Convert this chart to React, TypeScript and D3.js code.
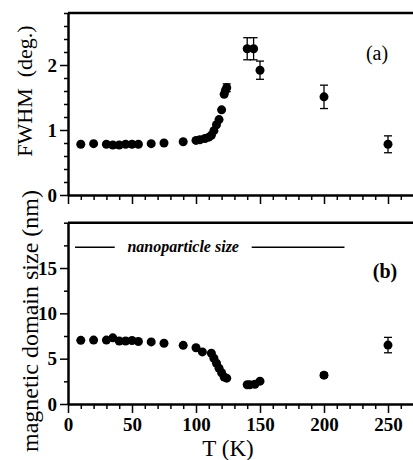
import React, { useEffect, useRef } from "react";
import * as d3 from "d3";

// panel (a): FWHM vs temperature
const tempA = [10, 20, 30, 35, 40, 45, 50, 55, 65, 75, 90, 100, 103, 107, 110, 112, 114, 116, 118, 120, 122, 123, 124, 140, 145, 150, 200, 250];
const fwhm = [0.78, 0.79, 0.78, 0.77, 0.77, 0.78, 0.78, 0.78, 0.79, 0.8, 0.82, 0.84, 0.85, 0.87, 0.89, 0.92, 0.99, 1.08, 1.16, 1.31, 1.55, 1.61, 1.65, 2.25, 2.25, 1.92, 1.51, 0.78];
const fwhmErr = [0, 0, 0, 0, 0, 0, 0, 0, 0, 0, 0, 0, 0, 0, 0, 0, 0, 0, 0, 0, 0, 0, 0.06, 0.17, 0.17, 0.14, 0.18, 0.13];

// panel (b): magnetic domain size vs temperature
const tempB = [10, 20, 30, 35, 40, 45, 50, 55, 65, 75, 90, 100, 105, 112, 114, 116, 118, 120, 122, 124, 140, 142, 146, 150, 200, 250];
const domainSize = [7.02, 7.05, 7.05, 7.3, 6.95, 6.95, 7.0, 6.9, 6.85, 6.7, 6.47, 6.2, 5.75, 5.6, 5.05, 4.5, 3.95, 3.45, 2.98, 2.85, 2.12, 2.12, 2.18, 2.52, 3.18, 6.5];
const domainErr = [0, 0, 0, 0, 0, 0, 0, 0, 0, 0, 0, 0, 0, 0, 0, 0, 0, 0, 0, 0, 0, 0, 0, 0, 0.25, 0.85];

const nanoSize = 17.3;
const nanoSpan = [5.5, 36.5, 143.5, 216];

const xMajor = [0, 50, 100, 150, 200, 250];
const yMajorA = [0, 1, 2];
const yMajorB = [0, 5, 10, 15];

export default function App() {
  const svgRef = useRef<SVGSVGElement>(null);

  useEffect(() => {
    const svg = d3.select(svgRef.current);
    svg.selectAll("*").remove();
    const font = "Liberation Serif";

    const x = d3.scaleLinear().domain([0, 275]).range([68, 420]);
    const yA = d3.scaleLinear().domain([0, 2.8]).range([195, 13]);
    const yB = d3.scaleLinear().domain([0, 20]).range([404, 222.7]);

    function panel(y: d3.ScaleLinear<number, number>, majors: number[], minorStep: number, showX: boolean) {
      const [y0, y1] = y.range();
      const g = svg.append("g");
      // top frame line
      g.append("line").attr("x1", 68).attr("x2", 420).attr("y1", y1).attr("y2", y1)
        .attr("stroke", "#000").attr("stroke-width", 2.5);

      // x axis
      const xMinor = d3.range(0, 271, 10).filter((v) => v % 50 !== 0);
      g.append("g").attr("transform", `translate(0,${y0})`)
        .call(d3.axisBottom(x).tickValues(xMinor).tickSize(5).tickSizeOuter(0).tickFormat(() => ""));
      const xa = g.append("g").attr("transform", `translate(0,${y0})`)
        .call(d3.axisBottom(x).tickValues(xMajor).tickSize(9).tickSizeOuter(0).tickPadding(5)
          .tickFormat(showX ? d3.format("d") : () => ""));

      // y axis
      const [d0, d1] = y.domain();
      const yMinor = d3.range(d0, d1 + 1e-9, minorStep).filter((v) => !majors.some((m) => Math.abs(m - v) < 1e-6));
      g.append("g").attr("transform", "translate(68,0)")
        .call(d3.axisLeft(y).tickValues(yMinor).tickSize(4).tickSizeOuter(0).tickFormat(() => ""));
      const ya = g.append("g").attr("transform", "translate(68,0)")
        .call(d3.axisLeft(y).tickValues(majors).tickSize(8).tickSizeOuter(0).tickPadding(3).tickFormat(d3.format("d")));

      g.selectAll(".domain").attr("stroke-width", 2);
      g.selectAll(".tick line").attr("stroke-width", 1.5);
      [xa, ya].forEach((a) => a.attr("font-family", font).attr("font-size", 19).attr("font-weight", 700));
      [xa, ya].forEach((a) => a.selectAll("text").attr("font-family", font).attr("font-size", 19).attr("font-weight", 700));
      return g;
    }

    const gA = panel(yA, yMajorA, 0.2, false);
    const gB = panel(yB, yMajorB, 2.5, true);

    function errorBars(g: any, xs: number[], ys: number[], es: number[], y: d3.ScaleLinear<number, number>) {
      const idx = d3.range(xs.length).filter((i) => es[i] > 0);
      const eb = g.append("g").attr("stroke", "#000").attr("stroke-width", 1.3);
      idx.forEach((i) => {
        const cx = x(xs[i]);
        eb.append("line").attr("x1", cx).attr("x2", cx).attr("y1", y(ys[i] - es[i])).attr("y2", y(ys[i] + es[i]));
        [ys[i] - es[i], ys[i] + es[i]].forEach((v) => {
          eb.append("line").attr("x1", cx - 4).attr("x2", cx + 4).attr("y1", y(v)).attr("y2", y(v));
        });
      });
    }

    errorBars(gA, tempA, fwhm, fwhmErr, yA);
    gA.append("g").selectAll("circle").data(tempA).join("circle")
      .attr("cx", (d) => x(d)).attr("cy", (_d, i) => yA(fwhm[i])).attr("r", 4.5).attr("fill", "#000");

    errorBars(gB, tempB, domainSize, domainErr, yB);
    gB.append("g").selectAll("circle").data(tempB).join("circle")
      .attr("cx", (d) => x(d)).attr("cy", (_d, i) => yB(domainSize[i])).attr("r", 4.5).attr("fill", "#000");

    // nanoparticle size line
    const ny = yB(nanoSize);
    gB.append("line").attr("x1", x(nanoSpan[0])).attr("x2", x(nanoSpan[1])).attr("y1", ny).attr("y2", ny)
      .attr("stroke", "#000").attr("stroke-width", 1.5);
    gB.append("line").attr("x1", x(nanoSpan[2])).attr("x2", x(nanoSpan[3])).attr("y1", ny).attr("y2", ny)
      .attr("stroke", "#000").attr("stroke-width", 1.5);
    gB.append("text").attr("x", x((nanoSpan[1] + nanoSpan[2]) / 2)).attr("y", ny + 5)
      .attr("text-anchor", "middle").attr("font-family", font).attr("font-size", 16)
      .attr("font-style", "italic").attr("font-weight", 700).text("nanoparticle size");

    // panel labels
    svg.append("text").attr("x", 377).attr("y", 60).attr("text-anchor", "middle")
      .attr("font-family", font).attr("font-size", 20).text("(a)");
    svg.append("text").attr("x", 385).attr("y", 278).attr("text-anchor", "middle")
      .attr("font-family", font).attr("font-size", 20).attr("font-weight", 700).text("(b)");

    // axis titles
    svg.append("text").attr("transform", "translate(32,91) rotate(-90)").attr("text-anchor", "middle")
      .attr("font-family", font).attr("font-size", 22).attr("xml:space", "preserve").text("FWHM  (deg.)");
    svg.append("text").attr("transform", "translate(38,321) rotate(-90)").attr("text-anchor", "middle")
      .attr("font-family", font).attr("font-size", 24).text("magnetic domain size (nm)");
    svg.append("text").attr("x", 228).attr("y", 456).attr("text-anchor", "middle")
      .attr("font-family", font).attr("font-size", 23).text("T (K)");
  }, []);

  return (
    <svg ref={svgRef} width={413} height={460}
      style={{ position: "absolute", left: 0, top: 0, background: "#fff" }} />
  );
}
